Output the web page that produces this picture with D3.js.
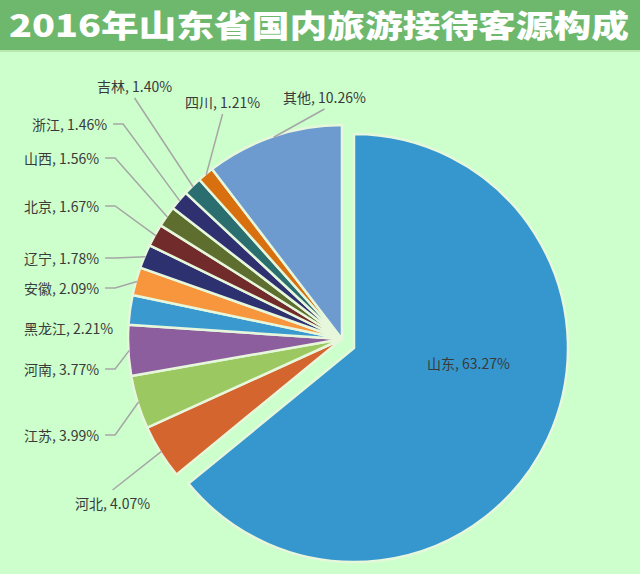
<!DOCTYPE html>
<html>
<head>
<meta charset="utf-8">
<script src="https://cdn.jsdelivr.net/npm/d3@7"></script>
<style>
  html, body { margin: 0; padding: 0; background: #ccffcc; }
  svg { display: block; }
</style>
</head>
<body>
<div class="container"></div>
<script>
// slices, clockwise from 12 o'clock
const provinces = ['山东', '河北', '江苏', '河南', '黑龙江', '安徽', '辽宁', '北京', '山西', '浙江', '吉林', '四川', '其他']
const shares = [63.27, 4.07, 3.99, 3.77, 2.21, 2.09, 1.78, 1.67, 1.56, 1.46, 1.40, 1.21, 10.26]
const colors = ['#3597cd', '#d4652f', '#9bc860', '#8c5e9e', '#3a9ad0', '#f7963c', '#2e3170', '#722b2b',
  '#5e6e2e', '#2e3070', '#2b6e70', '#d8700f', '#6d9bd0']

// where each label sits (text start x, middle y) and where its leader starts
// lead: 'side' = from the end of the text, 'below' / 'above' = from under/over the text, null = none
const labelSpots = [
  { x: 427, y: 363, lead: null },
  { x: 75, y: 503, lead: 'above' },
  { x: 24, y: 435, lead: 'side' },
  { x: 24, y: 369, lead: 'side' },
  { x: 24, y: 328, lead: null },
  { x: 24, y: 288, lead: 'side' },
  { x: 24, y: 258, lead: 'side' },
  { x: 24, y: 206, lead: 'side' },
  { x: 24, y: 158, lead: 'side' },
  { x: 32, y: 124, lead: 'side' },
  { x: 97, y: 86, lead: 'below' },
  { x: 185, y: 102, lead: 'below' },
  { x: 283, y: 97, lead: 'below' }
]

const w = 640
const h = 574
const cx = 342
const cy = 339
const r = 214
const pull = [12, 9] // 山东 is pulled away from the rest

const data = provinces.map((p, i) => ({ name: p, value: shares[i], color: colors[i], spot: labelSpots[i] }))

const svg = d3.select('.container')
  .append('svg')
  .attr('width', w)
  .attr('height', h)

svg.append('rect')
  .attr('width', w)
  .attr('height', h)
  .attr('fill', '#ccffcc')

svg.append('rect')
  .attr('width', w)
  .attr('height', 50)
  .attr('fill', '#6db86d')

svg.append('rect')
  .attr('y', 50)
  .attr('width', w)
  .attr('height', 2)
  .attr('fill', '#b9e8b0')

svg.append('text')
  .text('2016年山东省国内旅游接待客源构成')
  .attr('x', 319)
  .attr('y', 23)
  .attr('text-anchor', 'middle')
  .attr('dominant-baseline', 'central')
  .attr('font-family', '"Noto Sans CJK SC", sans-serif')
  .attr('font-weight', 900)
  .attr('font-size', 31)
  .attr('textLength', 620)
  .attr('lengthAdjust', 'spacingAndGlyphs')
  .attr('fill', '#ffffff')

const pie = d3.pie()
  .value(d => d.value)
  .sort(null)

const arc = d3.arc()
  .innerRadius(0)
  .outerRadius(r)

const arcs = pie(data)

const g = svg.append('g')
  .attr('transform', `translate(${cx}, ${cy})`)

g.selectAll('path')
  .data(arcs)
  .enter()
  .append('path')
  .attr('d', arc)
  .attr('fill', d => d.data.color)
  .attr('stroke', '#e6f7dc')
  .attr('stroke-width', 2.5)
  .attr('stroke-linejoin', 'round')
  .attr('transform', (d, i) => i === 0 ? `translate(${pull[0]}, ${pull[1]})` : null)

const labels = svg.append('g')
  .attr('font-family', '"Noto Sans CJK SC", sans-serif')
  .attr('font-size', 14)
  .attr('fill', '#3a3a3a')

const leaders = svg.append('g')
  .attr('fill', 'none')
  .attr('stroke', '#a6a6a6')
  .attr('stroke-width', 1.5)

arcs.forEach(d => {
  const s = d.data.spot
  const t = labels.append('text')
    .text(`${d.data.name}, ${d.data.value.toFixed(2)}%`)
    .attr('x', s.x)
    .attr('y', s.y)
    .attr('dominant-baseline', 'central')
  if (!s.lead) return

  const len = t.node().getComputedTextLength()
  const mid = (d.startAngle + d.endAngle) / 2
  const end = [cx + Math.sin(mid) * (r - 1), cy - Math.cos(mid) * (r - 1)]
  let pts
  if (s.lead === 'side') {
    pts = [[s.x + len + 6, s.y], [s.x + len + 16, s.y], end]
  } else if (s.lead === 'below') {
    pts = [[s.x + len / 2, s.y + 12], end]
  } else {
    pts = [[s.x + len / 2, s.y - 13], end]
  }
  leaders.append('path')
    .attr('d', d3.line()(pts))
})
</script>
</body>
</html>
